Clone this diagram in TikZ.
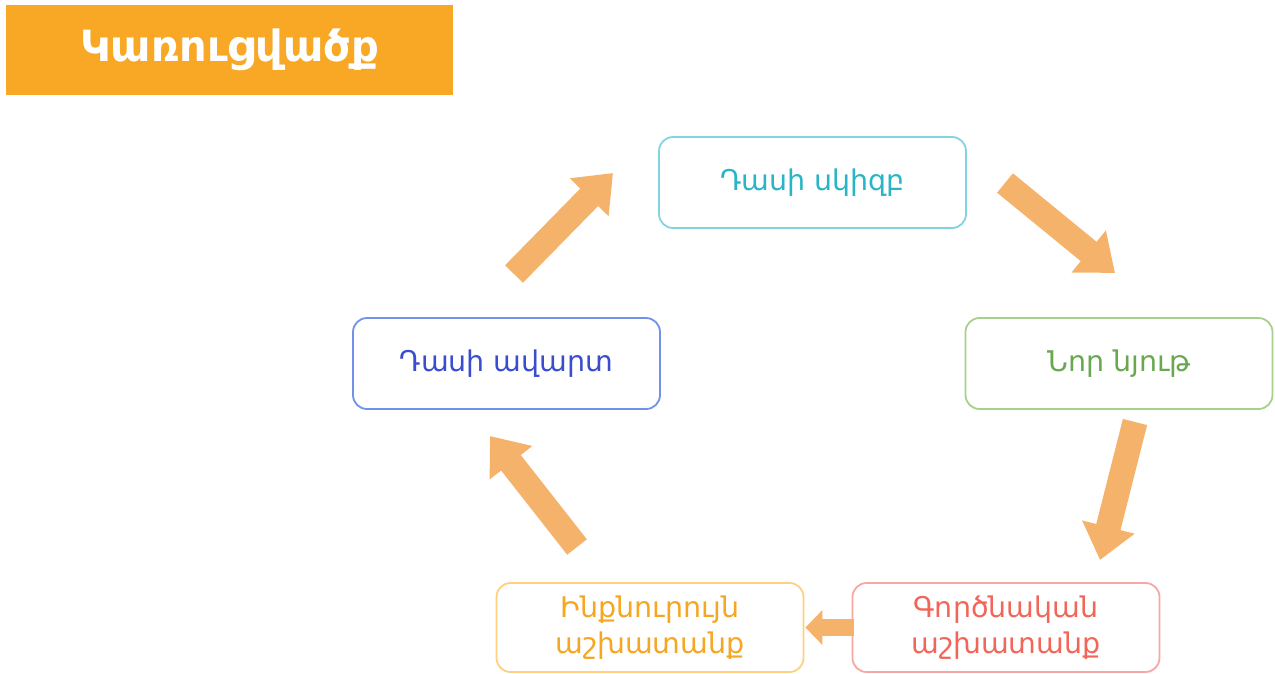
\documentclass[tikz,border=0pt]{standalone}
\usepackage{fontspec}
\setmainfont{DejaVu Sans}
\usetikzlibrary{arrows.meta}
\definecolor{titleorange}{HTML}{F9A825}
\definecolor{arrowc}{HTML}{F4B26B}
\definecolor{cyanB}{HTML}{7FD6E0}\definecolor{cyanT}{HTML}{2AB4C8}
\definecolor{greenB}{HTML}{A8D08D}\definecolor{greenT}{HTML}{6AA84F}
\definecolor{redB}{HTML}{F7A8A0}\definecolor{redT}{HTML}{F2665A}
\definecolor{orangeB}{HTML}{FFD080}\definecolor{orangeT}{HTML}{F5A623}
\definecolor{blueB}{HTML}{7092E8}\definecolor{blueT}{HTML}{3A4CD0}
\tikzset{
  stagebox/.style={draw=#1, line width=1.8pt, rounded corners=14pt, fill=white,
    minimum width=307pt, minimum height=91pt, align=center,
    font=\fontsize{28.5}{36}\selectfont, inner sep=0pt},
  bigarrow/.style={draw=arrowc, line width=25pt, -{Triangle[length=34pt,width=52pt]}},
}
\begin{document}
\begin{tikzpicture}[x=1pt,y=-1pt]
\useasboundingbox (0,0) rectangle (1275,673);
\node[fill=titleorange, minimum width=447pt, minimum height=90pt, inner sep=0pt,
  text=white, font=\fontsize{43}{48}\selectfont\bfseries] (title) at (229.5,50) {Կառուցվածք};
\node[stagebox=cyanB, text=cyanT] (start) at (812.5,182.5) {Դասի սկիզբ};
\node[stagebox=greenB, text=greenT] (new) at (1119,363.5) {Նոր նյութ};
\node[stagebox=redB, text=redT, minimum height=89pt] (prac) at (1006,627.5) {Գործնական\\աշխատանք};
\node[stagebox=orangeB, text=orangeT, minimum height=89pt] (indep) at (650,627.5) {Ինքնուրույն\\աշխատանք};
\node[stagebox=blueB, text=blueT] (end) at (506.5,363.5) {Դասի ավարտ};
\coordinate (a1s) at (514,274); \coordinate (a1e) at (613,173);
\coordinate (a2s) at (1005,183); \coordinate (a2e) at (1115,273);
\coordinate (a3s) at (1135,422); \coordinate (a3e) at (1100,560);
\coordinate (a4s) at (prac.west); \coordinate (a4e) at (indep.east);
\coordinate (a5s) at (577,547); \coordinate (a5e) at (490,436);
\draw[bigarrow] (a1s) -- (a1e);
\draw[bigarrow] (a2s) -- (a2e);
\draw[bigarrow] (a3s) -- (a3e);
\draw[draw=arrowc, line width=17pt, -{Triangle[length=17pt,width=34pt]}] ([xshift=2pt]a4s) -- ([xshift=1pt]a4e);
\draw[bigarrow] (a5s) -- (a5e);
\end{tikzpicture}
\end{document}
